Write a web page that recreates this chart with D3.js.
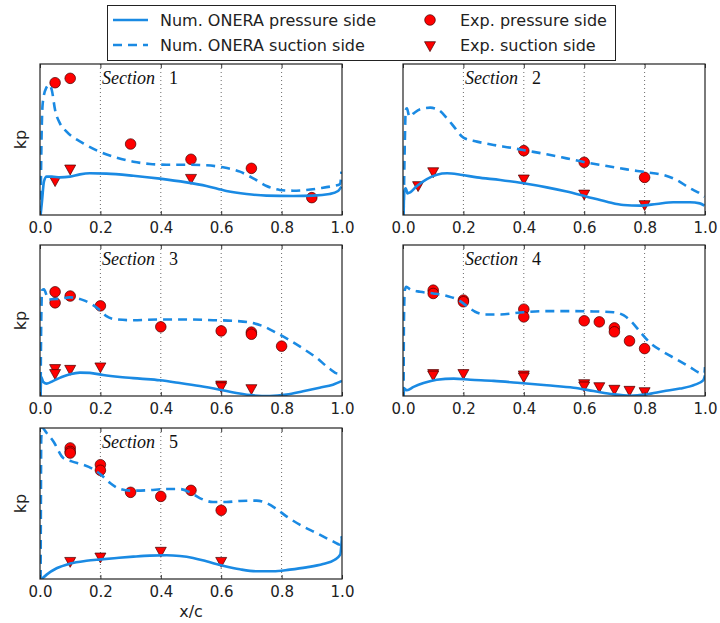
<!DOCTYPE html>
<html><head><meta charset="utf-8">
<script src="https://cdn.jsdelivr.net/npm/d3@7"></script>
<style>body{margin:0;background:#fff;} svg{display:block;}</style>
</head><body>
<svg id="chart" width="720" height="623"></svg>
<script>
// ---------- DATA (normalized kp, 0 = bottom of axis, 1 = top) ----------
const sections = ["1", "2", "3", "4", "5"];
const xTicks = [0.0, 0.2, 0.4, 0.6, 0.8, 1.0];
const gridX = [0.2, 0.4, 0.6, 0.8];
const legendLabels = ["Num. ONERA pressure side", "Num. ONERA suction side", "Exp. pressure side", "Exp. suction side"];

// Section 1
const s1Pressure = [[0.002,0],[0.007,0.099],[0.013,0.221],[0.022,0.254],[0.039,0.254],[0.066,0.249],[0.099,0.254],[0.132,0.269],[0.165,0.276],[0.22,0.274],[0.309,0.26],[0.397,0.241],[0.485,0.216],[0.551,0.192],[0.617,0.159],[0.684,0.139],[0.75,0.128],[0.838,0.126],[0.904,0.128],[0.959,0.139],[0.987,0.159],[0.998,0.188]];
const s1Suction = [[0.002,0],[0.004,0.364],[0.009,0.74],[0.020,0.839],[0.031,0.861],[0.039,0.828],[0.050,0.695],[0.066,0.607],[0.088,0.552],[0.143,0.475],[0.198,0.419],[0.254,0.38],[0.309,0.353],[0.364,0.338],[0.419,0.333],[0.485,0.333],[0.551,0.329],[0.606,0.316],[0.662,0.287],[0.706,0.243],[0.75,0.192],[0.794,0.166],[0.838,0.161],[0.882,0.166],[0.926,0.177],[0.970,0.192],[0.994,0.205],[0.998,0.287]];
const s1ExpP = [[0.05,0.876],[0.10,0.905],[0.30,0.470],[0.50,0.369],[0.70,0.309],[0.90,0.115]];
const s1ExpS = [[0.05,0.232],[0.10,0.309],[0.50,0.247]];

// Section 2
const s2Pressure = [[0.002,0],[0.004,0.155],[0.009,0.177],[0.015,0.143],[0.024,0.15],[0.046,0.192],[0.079,0.238],[0.112,0.267],[0.146,0.276],[0.19,0.267],[0.245,0.249],[0.322,0.232],[0.399,0.21],[0.476,0.183],[0.542,0.155],[0.609,0.121],[0.675,0.088],[0.73,0.066],[0.785,0.062],[0.84,0.073],[0.895,0.084],[0.95,0.084],[0.983,0.077],[0.998,0.062]];
const s2Suction = [[0.002,0],[0.006,0.475],[0.009,0.695],[0.013,0.706],[0.021,0.651],[0.035,0.673],[0.057,0.7],[0.09,0.711],[0.118,0.695],[0.146,0.64],[0.173,0.574],[0.2,0.512],[0.245,0.486],[0.3,0.464],[0.355,0.446],[0.41,0.426],[0.476,0.402],[0.542,0.375],[0.609,0.347],[0.675,0.325],[0.741,0.302],[0.807,0.283],[0.862,0.265],[0.906,0.232],[0.95,0.177],[0.983,0.143],[0.998,0.121]];
const s2ExpP = [[0.40,0.426],[0.60,0.349],[0.80,0.249]];
const s2ExpS = [[0.05,0.199],[0.10,0.291],[0.40,0.243],[0.60,0.143],[0.80,0.073]];

// Section 3
const s3Pressure = [[0.002,0],[0.004,0.126],[0.011,0.093],[0.022,0.082],[0.044,0.1],[0.072,0.126],[0.099,0.144],[0.132,0.155],[0.165,0.153],[0.209,0.139],[0.265,0.126],[0.331,0.115],[0.397,0.104],[0.463,0.086],[0.529,0.066],[0.595,0.042],[0.65,0.02],[0.706,0.004],[0.761,0],[0.816,0.009],[0.871,0.031],[0.926,0.055],[0.97,0.075],[1.0,0.1]];
const s3Suction = [[0.002,0],[0.004,0.48],[0.007,0.701],[0.013,0.706],[0.028,0.639],[0.055,0.642],[0.099,0.653],[0.143,0.635],[0.176,0.602],[0.198,0.569],[0.22,0.529],[0.254,0.507],[0.309,0.502],[0.397,0.507],[0.485,0.507],[0.573,0.502],[0.639,0.498],[0.695,0.487],[0.739,0.462],[0.783,0.418],[0.827,0.369],[0.871,0.314],[0.915,0.254],[0.959,0.181],[0.987,0.148],[1.0,0.153]];
const s3ExpP = [[0.05,0.69],[0.05,0.617],[0.10,0.662],[0.20,0.597],[0.40,0.458],[0.60,0.431],[0.70,0.423],[0.70,0.409],[0.80,0.330]];
const s3ExpS = [[0.05,0.186],[0.05,0.153],[0.10,0.181],[0.20,0.197],[0.60,0.077],[0.60,0.066],[0.70,0.053]];

// Section 4
const s4Pressure = [[0.002,0],[0.004,0.049],[0.013,0.038],[0.035,0.06],[0.068,0.086],[0.112,0.108],[0.168,0.115],[0.223,0.108],[0.3,0.1],[0.388,0.086],[0.476,0.071],[0.565,0.055],[0.631,0.033],[0.697,0.011],[0.752,0.002],[0.807,0.011],[0.862,0.031],[0.917,0.049],[0.967,0.075],[0.994,0.104],[1.0,0.137]];
const s4Suction = [[0.002,0],[0.003,0.48],[0.006,0.701],[0.011,0.723],[0.024,0.706],[0.057,0.69],[0.101,0.679],[0.146,0.662],[0.184,0.635],[0.212,0.595],[0.239,0.558],[0.272,0.54],[0.322,0.54],[0.388,0.553],[0.465,0.562],[0.542,0.562],[0.631,0.56],[0.697,0.555],[0.73,0.535],[0.757,0.491],[0.785,0.425],[0.818,0.352],[0.862,0.292],[0.906,0.243],[0.95,0.192],[0.983,0.153],[0.998,0.148],[1.0,0.192]];
const s4ExpP = [[0.10,0.701],[0.10,0.679],[0.20,0.635],[0.20,0.624],[0.40,0.575],[0.40,0.524],[0.60,0.498],[0.65,0.491],[0.70,0.451],[0.70,0.425],[0.75,0.365],[0.80,0.314]];
const s4ExpS = [[0.10,0.153],[0.10,0.143],[0.20,0.153],[0.40,0.144],[0.40,0.131],[0.60,0.086],[0.60,0.071],[0.65,0.066],[0.70,0.049],[0.75,0.042],[0.80,0.033]];

// Section 5
const s5Pressure = [[0.006,0],[0.022,0.029],[0.055,0.071],[0.099,0.102],[0.154,0.121],[0.202,0.13],[0.254,0.139],[0.309,0.148],[0.364,0.155],[0.419,0.157],[0.463,0.152],[0.507,0.139],[0.551,0.117],[0.606,0.088],[0.662,0.064],[0.717,0.051],[0.772,0.051],[0.827,0.062],[0.882,0.077],[0.937,0.099],[0.976,0.128],[0.994,0.161],[1.0,0.283]];
const s5Suction = [[0.002,0],[0.003,0.503],[0.004,0.923],[0.007,1.0],[0.022,0.967],[0.044,0.912],[0.077,0.801],[0.105,0.779],[0.143,0.757],[0.176,0.728],[0.202,0.691],[0.232,0.636],[0.265,0.596],[0.301,0.585],[0.353,0.587],[0.419,0.596],[0.463,0.596],[0.496,0.574],[0.529,0.536],[0.573,0.51],[0.617,0.51],[0.662,0.517],[0.717,0.519],[0.75,0.503],[0.783,0.464],[0.816,0.415],[0.86,0.36],[0.915,0.305],[0.97,0.249],[0.994,0.227],[1.0,0.283]];
const s5ExpP = [[0.10,0.868],[0.10,0.845],[0.10,0.834],[0.20,0.757],[0.20,0.72],[0.30,0.574],[0.40,0.547],[0.50,0.587],[0.60,0.455]];
const s5ExpS = [[0.10,0.121],[0.20,0.15],[0.40,0.188],[0.60,0.121]];

const pressureLines = [s1Pressure, s2Pressure, s3Pressure, s4Pressure, s5Pressure];
const suctionLines = [s1Suction, s2Suction, s3Suction, s4Suction, s5Suction];
const expPressure = [s1ExpP, s2ExpP, s3ExpP, s4ExpP, s5ExpP];
const expSuction = [s1ExpS, s2ExpS, s3ExpS, s4ExpS, s5ExpS];

// ---------- LAYOUT ----------
const BLUE = "#1a8ae3", RED = "#ff0000";
const panelW = 302, panelH = 151;
const panelPos = [[40,64],[403,64],[40,245],[403,245],[40,428]];
const svg = d3.select("#chart");

function tri(cx, cy, s) {
  const h = s * 0.9;
  return `M${cx - s/2},${cy - h/3}L${cx + s/2},${cy - h/3}L${cx},${cy + 2*h/3}Z`;
}

sections.forEach((sec, i) => {
  const [px, py] = panelPos[i];
  const g = svg.append("g").attr("transform", `translate(${px},${py})`);
  const x = d3.scaleLinear().domain([0, 1]).range([0, panelW]);
  const y = d3.scaleLinear().domain([0, 1]).range([panelH, 0]);

  g.append("clipPath").attr("id", "clip" + i)
    .append("rect").attr("x", 0).attr("y", 0).attr("width", panelW).attr("height", panelH);

  // grid
  g.selectAll(".grid").data(gridX).enter().append("line")
    .attr("x1", d => x(d)).attr("x2", d => x(d)).attr("y1", 0).attr("y2", panelH)
    .attr("stroke", "#444").attr("stroke-width", 0.8).attr("stroke-dasharray", "1,3");

  const plot = g.append("g").attr("clip-path", `url(#clip${i})`);

  // markers
  plot.selectAll(".ep").data(expPressure[i]).enter().append("circle")
    .attr("cx", d => x(d[0])).attr("cy", d => y(d[1])).attr("r", 5.3)
    .attr("fill", RED).attr("stroke", "#440000").attr("stroke-width", 0.7);
  plot.selectAll(".es").data(expSuction[i]).enter().append("path")
    .attr("d", d => tri(x(d[0]), y(d[1]), 11))
    .attr("fill", RED).attr("stroke", "#440000").attr("stroke-width", 0.7);

  const line = d3.line().x(d => x(d[0])).y(d => y(d[1])).curve(d3.curveMonotoneX);
  plot.append("path").datum(pressureLines[i]).attr("d", line)
    .attr("fill", "none").attr("stroke", BLUE).attr("stroke-width", 2.6);
  plot.append("path").datum(suctionLines[i]).attr("d", line)
    .attr("fill", "none").attr("stroke", BLUE).attr("stroke-width", 2.6)
    .attr("stroke-dasharray", "9,6");

  // axes
  const ax = g.append("g").attr("transform", `translate(0,${panelH})`)
    .call(d3.axisBottom(x).tickValues(xTicks).tickFormat(d3.format(".1f"))
      .tickSizeInner(-4).tickSizeOuter(0).tickPadding(7));
  ax.select(".domain").remove();
  ax.selectAll("line").attr("stroke", "#333");
  ax.selectAll("text").attr("font-family", "DejaVu Sans").attr("font-size", 15).attr("fill", "#222");
  const axt = g.append("g")
    .call(d3.axisTop(x).tickValues(xTicks).tickFormat("").tickSizeInner(-4).tickSizeOuter(0));
  axt.select(".domain").remove();
  axt.selectAll("line").attr("stroke", "#333");

  g.append("rect").attr("width", panelW).attr("height", panelH)
    .attr("fill", "none").attr("stroke", "#222").attr("stroke-width", 1.2);

  // section label
  const t = g.append("text").attr("x", 62).attr("y", 20)
    .attr("font-family", "Liberation Serif").attr("font-size", 18).attr("fill", "#111");
  t.append("tspan").attr("font-style", "italic").text("Section");
  t.append("tspan").attr("dx", 14).text(sec);

  if (i % 2 === 0) {
    g.append("text").attr("transform", `translate(-14,${panelH/2}) rotate(-90)`)
      .attr("text-anchor", "middle").attr("font-family", "DejaVu Sans").attr("font-size", 16)
      .attr("fill", "#222").text("kp");
  }
  if (i === 4) {
    g.append("text").attr("x", panelW/2).attr("y", 189).attr("text-anchor", "middle")
      .attr("font-family", "DejaVu Sans").attr("font-size", 16).attr("fill", "#222").text("x/c");
  }
});

// ---------- LEGEND ----------
const lg = svg.append("g");
lg.append("rect").attr("x", 107.5).attr("y", 5.5).attr("width", 508).attr("height", 55)
  .attr("fill", "#fff").attr("stroke", "#222").attr("stroke-width", 1);
const rows = [20, 45];
lg.append("line").attr("x1", 113).attr("x2", 148).attr("y1", rows[0]).attr("y2", rows[0])
  .attr("stroke", BLUE).attr("stroke-width", 2.6);
lg.append("line").attr("x1", 113).attr("x2", 148).attr("y1", rows[1]).attr("y2", rows[1])
  .attr("stroke", BLUE).attr("stroke-width", 2.6).attr("stroke-dasharray", "9,6");
lg.append("circle").attr("cx", 430).attr("cy", rows[0]).attr("r", 5.3)
  .attr("fill", RED).attr("stroke", "#440000").attr("stroke-width", 0.7);
lg.append("path").attr("d", tri(430, rows[1], 11))
  .attr("fill", RED).attr("stroke", "#440000").attr("stroke-width", 0.7);
const lx = [160, 160, 460, 460], ly = [rows[0], rows[1], rows[0], rows[1]];
legendLabels.forEach((l, k) => {
  lg.append("text").attr("x", lx[k]).attr("y", ly[k]).attr("dy", "0.36em")
    .attr("font-family", "DejaVu Sans").attr("font-size", 16).attr("fill", "#222").text(l);
});
</script>
</body></html>
